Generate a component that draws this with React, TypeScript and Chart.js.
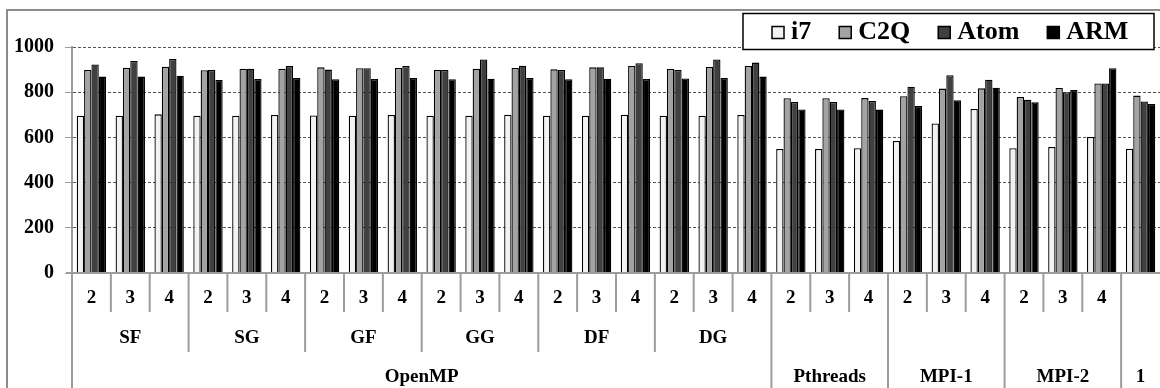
import { useEffect, useRef } from 'react';
import { Chart, registerables } from 'chart.js';

Chart.register(...registerables);

// Third axis row: programming model of each run
const modelLabels = [
  'OpenMP', 'OpenMP', 'OpenMP', 'OpenMP', 'OpenMP', 'OpenMP',
  'OpenMP', 'OpenMP', 'OpenMP', 'OpenMP', 'OpenMP', 'OpenMP',
  'OpenMP', 'OpenMP', 'OpenMP', 'OpenMP', 'OpenMP', 'OpenMP',
  'Pthreads', 'Pthreads', 'Pthreads',
  'MPI-1', 'MPI-1', 'MPI-1',
  'MPI-2', 'MPI-2', 'MPI-2',
  '1',
];

// Second axis row: OpenMP variant (empty where not applicable)
const variantLabels = [
  'SF', 'SF', 'SF', 'SG', 'SG', 'SG', 'GF', 'GF', 'GF',
  'GG', 'GG', 'GG', 'DF', 'DF', 'DF', 'DG', 'DG', 'DG',
  '', '', '', '', '', '', '', '', '', '',
];

// First axis row: number of threads / processes
const threadLabels = [
  '2', '3', '4', '2', '3', '4', '2', '3', '4',
  '2', '3', '4', '2', '3', '4', '2', '3', '4',
  '2', '3', '4', '2', '3', '4', '2', '3', '4',
  '',
];

const i7Values = [
  696, 696, 702, 696, 696, 699, 697, 696, 699,
  696, 696, 700, 696, 696, 700, 696, 696, 699,
  549, 549, 552, 584, 662, 726, 552, 558, 602,
  550,
];
const c2qValues = [
  898, 908, 913, 897, 904, 904, 910, 906, 907,
  898, 904, 907, 901, 910, 916, 903, 912, 916,
  773, 773, 774, 782, 816, 817, 779, 819, 839,
  785,
];
const atomValues = [
  923, 938, 947, 898, 904, 916, 900, 906, 916,
  898, 945, 917, 898, 910, 928, 898, 945, 931,
  757, 757, 761, 824, 875, 855, 767, 800, 839,
  759,
];
const armValues = [
  869, 869, 873, 854, 858, 863, 857, 858, 863,
  857, 860, 863, 857, 860, 858, 861, 863, 869,
  724, 724, 723, 739, 764, 820, 755, 810, 906,
  748,
];

const yTicks = [0, 200, 400, 600, 800, 1000];

const seriesNames = ['i7', 'C2Q', 'Atom', 'ARM'];
const seriesColors = ['#f2f2f2', '#a3a3a3', '#404040', '#000000'];

const SERIF = '"Liberation Serif", "Times New Roman", serif';
const AXIS_GRAY = '#9c9c9c';

function runs(labels: string[]) {
  const out: { label: string; start: number; end: number }[] = [];
  labels.forEach((l, i) => {
    const last = out[out.length - 1];
    if (last && last.label === l) last.end = i;
    else out.push({ label: l, start: i, end: i });
  });
  return out;
}

const framePlugin = {
  id: 'frame',
  beforeDraw(chart: any) {
    const { ctx, width, height } = chart;
    ctx.save();
    ctx.strokeStyle = '#8c8c8c';
    ctx.lineWidth = 2;
    ctx.beginPath();
    ctx.moveTo(7, height);
    ctx.lineTo(7, 10);
    ctx.lineTo(width, 10);
    ctx.stroke();
    ctx.restore();
  },
};

const multiLevelAxisPlugin = {
  id: 'multiLevelAxis',
  afterDraw(chart: any) {
    const { ctx, chartArea, height } = chart;
    const xs = chart.scales.x;
    const n = threadLabels.length;
    const half = (xs.getPixelForValue(1) - xs.getPixelForValue(0)) / 2;
    const edge = (i: number) =>
      i < n ? xs.getPixelForValue(i) - half : xs.getPixelForValue(n - 1) + half;
    const base = chartArea.bottom;

    ctx.save();
    ctx.strokeStyle = AXIS_GRAY;
    ctx.lineWidth = 2;
    ctx.beginPath();
    // value axis and its extension through the label rows
    ctx.moveTo(chartArea.left, chartArea.top);
    ctx.lineTo(chartArea.left, height);
    // category axis
    ctx.moveTo(chartArea.left - 6, base);
    ctx.lineTo(chartArea.right, base);
    for (let i = 1; i < n; i++) {
      let bottom = base + 39;
      if (modelLabels[i] !== modelLabels[i - 1]) bottom = height;
      else if (variantLabels[i] !== variantLabels[i - 1]) bottom = base + 79;
      const x = edge(i);
      ctx.moveTo(x, base);
      ctx.lineTo(x, bottom);
    }
    ctx.stroke();

    ctx.fillStyle = '#000';
    ctx.textAlign = 'center';
    ctx.textBaseline = 'middle';
    ctx.font = `bold 19px ${SERIF}`;
    const rows: [string[], number][] = [
      [threadLabels, base + 25],
      [variantLabels, base + 65],
      [modelLabels, base + 104],
    ];
    rows.forEach(([labels, y]) => {
      runs(labels).forEach((r) => {
        if (!r.label) return;
        const cx = (edge(r.start) + edge(r.end + 1)) / 2;
        ctx.fillText(r.label, cx, y);
      });
    });
    ctx.restore();
  },
};

const boxedLegendPlugin = {
  id: 'boxedLegend',
  afterDraw(chart: any) {
    const { ctx } = chart;
    const left = 743;
    const top = 13.5;
    const right = 1154;
    const bottom = 49.5;
    ctx.save();
    ctx.fillStyle = '#fff';
    ctx.fillRect(left, top, right - left, bottom - top);
    ctx.strokeStyle = '#000';
    ctx.lineWidth = 1.5;
    ctx.strokeRect(left, top, right - left, bottom - top);

    ctx.font = `bold 26px ${SERIF}`;
    ctx.textBaseline = 'middle';
    ctx.textAlign = 'left';
    const cy = (top + bottom) / 2 + 1;
    let x = left + 29;
    chart.data.datasets.forEach((ds: any) => {
      ctx.fillStyle = ds.backgroundColor;
      ctx.fillRect(x, cy - 6, 12, 12);
      ctx.strokeStyle = '#000';
      ctx.lineWidth = 1.5;
      ctx.strokeRect(x, cy - 6, 12, 12);
      ctx.fillStyle = '#000';
      ctx.fillText(ds.label, x + 19, cy);
      x += 19 + ctx.measureText(ds.label).width + 28;
    });
    ctx.restore();
  },
};

export default function App() {
  const canvasRef = useRef<HTMLCanvasElement>(null);

  useEffect(() => {
    const canvas = canvasRef.current;
    if (!canvas) return;
    const values = [i7Values, c2qValues, atomValues, armValues];
    const chart = new Chart(canvas, {
      type: 'bar',
      data: {
        labels: threadLabels.map((t, i) => [t, variantLabels[i], modelLabels[i]]),
        datasets: seriesNames.map((name, k) => ({
          label: name,
          data: values[k],
          backgroundColor: seriesColors[k],
          borderColor: '#000',
          borderWidth: 1.3,
          categoryPercentage: 0.756,
          barPercentage: 1.0,
        })),
      },
      options: {
        animation: false,
        responsive: false,
        devicePixelRatio: 1,
        layout: { padding: { top: 47, right: 0, bottom: 115, left: 0 } },
        plugins: {
          legend: { display: false },
          tooltip: { enabled: false },
        },
        scales: {
          x: {
            display: false,
          },
          y: {
            min: 0,
            max: 1000,
            afterBuildTicks: (scale: any) => {
              scale.ticks = yTicks.map((v) => ({ value: v }));
            },
            afterFit: (scale: any) => {
              scale.width = 72;
            },
            ticks: {
              color: '#000',
              padding: 11,
              font: { family: SERIF, size: 20, weight: 'bold' },
              callback: (v: any) => String(v),
            },
            grid: {
              color: (c: any) => (c.tick && c.tick.value === 0 ? 'rgba(0,0,0,0)' : '#555'),
              lineWidth: 1,
              tickLength: 7,
              tickColor: AXIS_GRAY,
              tickBorderDash: [],
            },
            border: { display: true, color: AXIS_GRAY, width: 2, dash: [3, 2] },
          },
        },
      },
      plugins: [framePlugin, multiLevelAxisPlugin, boxedLegendPlugin],
    } as any);
    return () => chart.destroy();
  }, []);

  return (
    <div
      style={{
        position: 'fixed',
        left: 0,
        top: 0,
        width: 1160,
        height: 388,
        overflow: 'hidden',
        background: '#fff',
      }}
    >
      <canvas ref={canvasRef} width={1160} height={388} style={{ display: 'block', width: 1160, height: 388 }} />
    </div>
  );
}
